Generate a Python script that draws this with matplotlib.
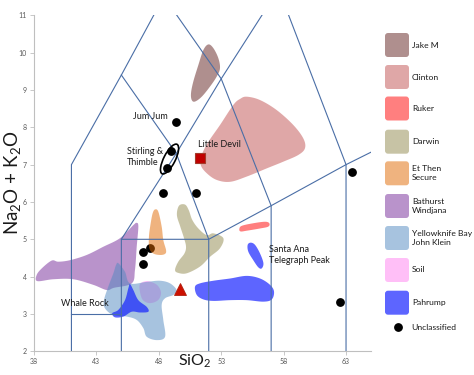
import numpy as np
import matplotlib.pyplot as plt
from matplotlib.patches import Polygon, Ellipse, FancyBboxPatch
from matplotlib.transforms import ScaledTranslation

plt.rcParams['font.family'] = ['Lato', 'DejaVu Sans']
plt.rcParams['mathtext.default'] = 'regular'

# TAS classification boundaries (SiO2, Na2O + K2O)
tas_lines = [
    [(41, 0), (41, 7), (45, 9.4), (48.4, 11.5), (52.5, 14)],
    [(41, 3), (45, 3)],
    [(45, 0), (45, 5), (49.4, 7.3), (53, 9.3), (57.6, 11.7), (61, 13.5)],
    [(45, 9.4), (49.4, 7.3), (52, 5), (52, 0)],
    [(45, 5), (52, 5), (57, 5.9), (63, 7), (69, 8)],
    [(48.4, 11.5), (53, 9.3), (57, 5.9), (57, 0)],
    [(57.6, 11.7), (63, 7), (63, 0)],
]

# compositional fields, outline vertices
jake_m = [(51.97, 10.22), (52.37, 10.12), (52.77, 9.85), (52.90, 9.58), (52.64, 9.36),
          (52.10, 9.09), (51.44, 8.82), (50.90, 8.69), (50.64, 8.73), (50.58, 8.91),
          (50.76, 9.22), (51.17, 9.67), (51.57, 10.07)]
clinton = [(55.04, 8.82), (56.11, 8.73), (57.45, 8.46), (58.78, 8.06), (59.58, 7.70),
           (59.71, 7.44), (59.18, 7.26), (57.98, 7.08), (56.65, 6.90), (55.04, 6.68),
           (53.71, 6.54), (52.64, 6.59), (51.84, 6.77), (51.36, 6.99), (51.44, 7.26),
           (51.97, 7.61), (52.90, 8.06), (53.97, 8.60), (54.51, 8.76)]
ruker = [(54.45, 5.27), (54.64, 5.36), (55.57, 5.43), (56.51, 5.47), (56.85, 5.43),
         (56.77, 5.34), (56.11, 5.29), (55.04, 5.23), (54.56, 5.21)]
darwin = [(49.62, 5.90), (50.10, 5.93), (50.40, 5.78), (50.68, 5.52), (51.17, 5.29),
          (51.84, 5.11), (52.37, 5.16), (53.17, 5.03), (52.90, 4.76), (52.10, 4.53),
          (51.30, 4.27), (50.24, 4.09), (49.56, 4.10), (49.30, 4.18), (49.56, 4.40),
          (50.05, 4.62), (50.18, 4.80), (50.02, 5.03), (49.72, 5.34), (49.45, 5.65)]
et_then = [(47.70, 5.80), (47.96, 5.74), (48.23, 5.34), (48.36, 4.98), (48.58, 4.71),
           (48.50, 4.61), (48.10, 4.58), (47.56, 4.62), (47.24, 4.76), (47.21, 5.07),
           (47.35, 5.43), (47.51, 5.70)]
bathurst = [(38.27, 3.88), (38.21, 4.04), (38.62, 4.22), (39.42, 4.43), (39.95, 4.40),
            (40.88, 4.44), (42.22, 4.58), (43.55, 4.80), (44.89, 5.03), (45.96, 5.38),
            (46.23, 5.44), (46.36, 5.34), (46.23, 4.80), (46.09, 4.18), (45.83, 3.82),
            (44.40, 3.70), (43.83, 3.64), (42.75, 3.78), (41.15, 3.93), (39.55, 3.93)]
yellowknife = [(44.76, 4.36), (45.29, 4.13), (45.69, 3.82), (47.03, 3.86), (48.10, 3.89),
               (48.90, 3.82), (49.43, 3.64), (49.16, 3.51), (48.50, 3.42), (48.23, 3.24),
               (48.36, 2.84), (48.50, 2.39), (47.83, 2.30), (47.03, 2.39), (46.76, 2.62),
               (46.23, 2.84), (45.43, 2.93), (44.36, 2.97), (43.69, 3.15), (43.61, 3.37),
               (43.95, 3.73), (44.36, 4.09), (44.57, 4.31)]
soil = [(46.49, 3.80), (46.97, 3.88), (47.46, 3.85), (47.94, 3.75), (48.18, 3.56),
        (47.94, 3.37), (47.30, 3.29), (46.73, 3.37), (46.49, 3.59)]
pahrump_whale = [(45.69, 3.80), (45.96, 3.64), (46.36, 3.37), (47.03, 3.19), (47.16, 3.06),
                 (46.49, 3.04), (45.83, 3.06), (45.16, 2.93), (44.49, 2.91), (44.27, 3.02),
                 (44.76, 3.11), (45.29, 3.37), (45.56, 3.69)]
pahrump_low = [(50.90, 3.73), (51.30, 3.82), (52.37, 3.89), (53.71, 3.95), (55.04, 4.02),
               (56.11, 3.95), (56.91, 3.78), (57.23, 3.60), (57.05, 3.39), (56.38, 3.33),
               (55.04, 3.37), (53.71, 3.37), (52.37, 3.35), (51.57, 3.39), (51.04, 3.51)]
pahrump_santa = [(55.36, 4.91), (55.71, 4.85), (56.11, 4.62), (56.38, 4.36), (56.24, 4.22),
                 (55.97, 4.25), (55.57, 4.44), (55.17, 4.67), (55.12, 4.85)]

# unclassified samples
dots_x = [49.34, 49.00, 48.66, 48.30, 50.98, 46.70, 46.70, 63.45, 62.50]
dots_y = [8.14, 7.36, 6.91, 6.23, 6.23, 4.67, 4.34, 6.80, 3.32]
hidden_dot = (47.33, 4.78)
little_devil = (51.28, 7.17)
red_triangle = (49.70, 3.66)

fields = [
    ('Jake M', [jake_m], '#61201f', 0.5),
    ('Clinton', [clinton], '#c15151', 0.5),
    ('Ruker', [ruker], '#ff0101', 0.5),
    ('Darwin', [darwin], '#91894d', 0.5),
    ('Et Then\nSecure', [et_then], '#e16901', 0.5),
    ('Bathurst\nWindjana', [bathurst], '#752999', 0.5),
    ('Yellowknife Bay\nJohn Klein', [yellowknife], '#5189c1', 0.5),
    ('Soil', [soil], '#ff81f1', 0.5),
    ('Pahrump', [pahrump_whale, pahrump_low, pahrump_santa], '#101cff', 0.68),
]
draw_order = ['Jake M', 'Clinton', 'Ruker', 'Darwin', 'Soil', 'Bathurst\nWindjana',
              'Yellowknife Bay\nJohn Klein', 'Pahrump', 'Et Then\nSecure']


def smooth_closed(pts, n=16):
    # closed Catmull-Rom spline through the outline vertices
    p = np.asarray(pts, float)
    m = len(p)
    t = np.linspace(0, 1, n, endpoint=False)[:, None]
    out = []
    for i in range(m):
        p0, p1, p2, p3 = p[i - 1], p[i], p[(i + 1) % m], p[(i + 2) % m]
        out.append(0.5 * (2 * p1 + (-p0 + p2) * t + (2 * p0 - 5 * p1 + 4 * p2 - p3) * t ** 2
                          + (-p0 + 3 * p1 - 3 * p2 + p3) * t ** 3))
    return np.vstack(out)


fig = plt.figure(figsize=(4.74, 3.75), dpi=100)
ax = fig.add_axes([0.0717, 0.0632, 0.711, 0.896])

# a sample hidden beneath the Et Then field
ax.plot(*hidden_dot, 'o', color='black', ms=5.3, zorder=1)

by_name = {f[0]: f for f in fields}
for z, name in enumerate(draw_order):
    _, shapes, color, alpha = by_name[name]
    for shp in shapes:
        ax.add_patch(Polygon(smooth_closed(shp), closed=True, facecolor=color,
                             edgecolor='none', alpha=alpha, zorder=2 + z * 0.1))

for line in tas_lines:
    xs, ys = zip(*line)
    ax.plot(xs, ys, color='#4a6ea6', lw=0.8, zorder=4)

ax.plot(dots_x, dots_y, 'o', color='black', ms=5.3, zorder=5)
ax.plot(*little_devil, 's', color='#c00000', mec='#a33a2a', mew=0.8, ms=7.5, zorder=5)
ax.plot(*red_triangle, '^', color='#cc1100', mec='#b02010', mew=0.6, ms=8, zorder=5)

# Stirling & Thimble pair outline
ell = Ellipse((0, 0), 0.33, 0.115, angle=63, fill=False, edgecolor='black', lw=1.2,
              transform=fig.dpi_scale_trans + ScaledTranslation(48.86, 7.15, ax.transData),
              zorder=6)
ax.add_patch(ell)

lab = dict(fontsize=6.5, color='#1a1a1a', zorder=7)
ax.text(48.74, 8.30, 'Jum Jum', ha='right', va='center', **lab)
ax.text(45.43, 7.20, 'Stirling &\nThimble', ha='left', va='center', linespacing=1.35, **lab)
ax.text(51.12, 7.54, 'Little Devil', ha='left', va='center', **lab)
ax.text(56.80, 4.58, 'Santa Ana\nTelegraph Peak', ha='left', va='center', linespacing=1.35, **lab)
ax.text(40.14, 3.27, 'Whale Rock', ha='left', va='center', **lab)

ax.set_xlim(38, 65)
ax.set_ylim(2, 11)
ax.set_xticks(np.arange(38, 64, 5))
ax.set_yticks(np.arange(2, 12, 1))
for side in ('top', 'right'):
    ax.spines[side].set_visible(False)
for side in ('left', 'bottom'):
    ax.spines[side].set_color('#bfbfbf')
    ax.spines[side].set_linewidth(0.8)
ax.tick_params(direction='out', length=3, width=0.6, color='#bfbfbf',
               labelcolor='#595959', labelsize=5, pad=2)
ax.set_xlabel('SiO$_2$', fontsize=11.5, color='#1a1a1a')
ax.xaxis.set_label_coords(0.478, -0.005)
ax.set_ylabel('Na$_2$O + K$_2$O', fontsize=13.5, color='#1a1a1a')
ax.yaxis.set_label_coords(-0.034, 0.5)

# legend drawn in figure pixel space
lax = fig.add_axes([0, 0, 1, 1])
lax.set_xlim(0, 474)
lax.set_ylim(375, 0)
lax.axis('off')
swatch_y = [45, 77, 108.5, 141.7, 173.3, 206, 238, 270, 302.7]
for (name, _, color, alpha), yc in zip(fields, swatch_y):
    lax.add_patch(FancyBboxPatch((385, yc - 12), 24, 24,
                                 boxstyle='round,pad=0,rounding_size=3',
                                 facecolor=color, alpha=alpha, edgecolor='none'))
    lax.text(412, yc, name, ha='left', va='center', fontsize=6.1,
             color='#1a1a1a', linespacing=1.4)
lax.plot(397.7, 326.7, 'o', color='black', ms=5.3)
lax.text(411, 327, 'Unclassified', ha='left', va='center', fontsize=6.1, color='#1a1a1a')

fig.savefig('out.png', dpi=100)
